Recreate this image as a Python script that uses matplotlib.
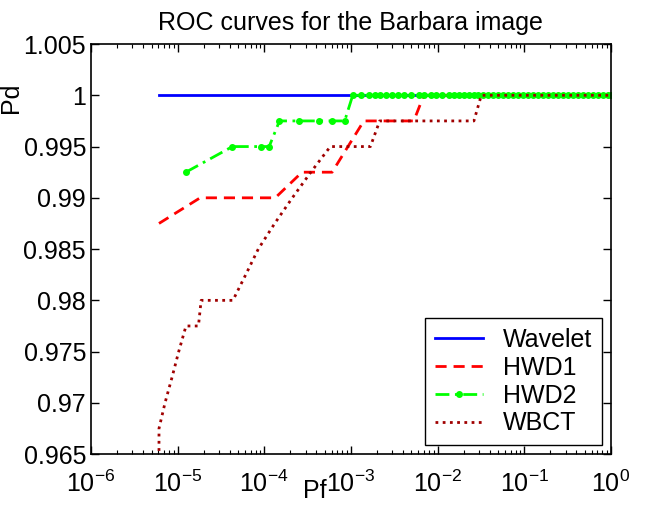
import matplotlib
matplotlib.use('Agg')
import matplotlib.pyplot as plt

plt.rcParams['font.family'] = ['Liberation Sans', 'DejaVu Sans']
plt.rcParams['mathtext.fontset'] = 'custom'
plt.rcParams['mathtext.rm'] = 'Liberation Sans'
plt.rcParams['mathtext.it'] = 'Liberation Sans'

# ROC data
wavelet_pf = [6.1e-6, 1.0]
wavelet_pd = [1.0, 1.0]

hwd1_pf = [6.1e-6, 1.82e-5, 1.34e-4, 2.73e-4, 6.07e-4, 1.41e-3, 5.32e-3, 6.95e-3, 1.0]
hwd1_pd = [0.9875, 0.99, 0.99, 0.9925, 0.9925, 0.9975, 0.9975, 1.0, 1.0]

hwd2_pf = [1.245e-5, 4.30e-5, 9.16e-5, 1.14e-4, 1.50e-4, 2.54e-4, 4.29e-4, 6.11e-4,
           8.48e-4, 1.05e-3, 1.31e-3, 1.64e-3, 1.92e-3, 2.19e-3, 2.55e-3, 2.99e-3,
           3.47e-3, 4.15e-3, 4.96e-3, 6.08e-3, 7.07e-3, 8.30e-3, 9.48e-3, 1.13e-2,
           1.35e-2, 1.54e-2, 1.76e-2, 2.01e-2, 2.30e-2, 2.63e-2, 2.92e-2, 3.31e-2,
           3.78e-2, 4.32e-2, 4.94e-2, 5.64e-2, 6.45e-2, 7.36e-2, 8.41e-2, 9.61e-2,
           0.110, 0.125, 0.143, 0.164, 0.187, 0.213, 0.244, 0.279, 0.318, 0.364,
           0.415, 0.474, 0.542, 0.619, 0.707, 0.809, 0.923, 1.0]
hwd2_pd = [0.9925, 0.995, 0.995, 0.995, 0.9975, 0.9975, 0.9975, 0.9975,
           0.9975] + [1.0] * 49

wbct_pf = [6.1e-6, 6.1e-6, 7.16e-6, 8.63e-6, 1.03e-5, 1.25e-5, 1.74e-5, 1.87e-5,
           4.35e-5, 6.11e-5, 8.53e-5, 1.32e-4, 2.11e-4, 3.45e-4, 5.79e-4, 1.68e-3,
           2.15e-3, 2.63e-2, 3.20e-2, 1.0]
wbct_pd = [0.9625, 0.9675, 0.97, 0.9725, 0.975, 0.9775, 0.9775, 0.98,
           0.98, 0.9825, 0.985, 0.9875, 0.99, 0.9925, 0.995, 0.995,
           0.9975, 0.9975, 1.0, 1.0]

series_names = ['Wavelet', 'HWD1', 'HWD2', 'WBCT']
ytick_vals = [0.965, 0.97, 0.975, 0.98, 0.985, 0.99, 0.995, 1.0, 1.005]
ytick_text = ['0.965', '0.97', '0.975', '0.98', '0.985', '0.99', '0.995', '1', '1.005']

fig = plt.figure(figsize=(6.45, 5.12), dpi=100)
ax = fig.add_axes([0.141, 0.113, 0.806, 0.801])

ax.semilogx(wavelet_pf, wavelet_pd, '-', color='#0000ff', lw=2, label=series_names[0])
ax.semilogx(hwd1_pf, hwd1_pd, '--', color='#ff0000', lw=2, dashes=(4, 2.5), label=series_names[1])
ax.semilogx(hwd2_pf, hwd2_pd, '-.', color='#00ff00', lw=2, marker='.', ms=8,
            dashes=(5, 2, 1, 2), label=series_names[2])
ax.semilogx(wbct_pf, wbct_pd, ':', color='#a00000', lw=2, dashes=(1, 1.6), label=series_names[3])

ax.set_xlim(1e-6, 1)
ax.set_ylim(0.965, 1.005)
ax.set_yticks(ytick_vals)
ax.set_yticklabels(ytick_text)
ax.set_xticks([1e-6, 1e-5, 1e-4, 1e-3, 1e-2, 1e-1, 1])

ax.tick_params(which='both', direction='in', top=True, right=True, labelsize=18)
ax.tick_params(which='major', length=6, width=1)
ax.tick_params(which='minor', length=3, width=0.8)
ax.tick_params(axis='x', pad=12)
for s in ax.spines.values():
    s.set_linewidth(1.2)

ax.set_title('ROC curves for the Barbara image', fontsize=18, pad=10)
ax.set_xlabel('Pf', fontsize=18)
ax.xaxis.set_label_coords(0.43, -0.06, transform=ax.transAxes)
ax.xaxis.label.set_va('top')
ax.set_ylabel('Pd', fontsize=18)
ax.yaxis.set_label_coords(-0.13, 0.87, transform=ax.transAxes)

leg = ax.legend(loc='lower right', fontsize=18, handlelength=1.9, fancybox=False,
                edgecolor='black', framealpha=1, borderaxespad=0.35,
                labelspacing=0.15, handletextpad=0.8, borderpad=0.4)
leg.get_frame().set_linewidth(1.0)

fig.savefig('out.png', dpi=100)
